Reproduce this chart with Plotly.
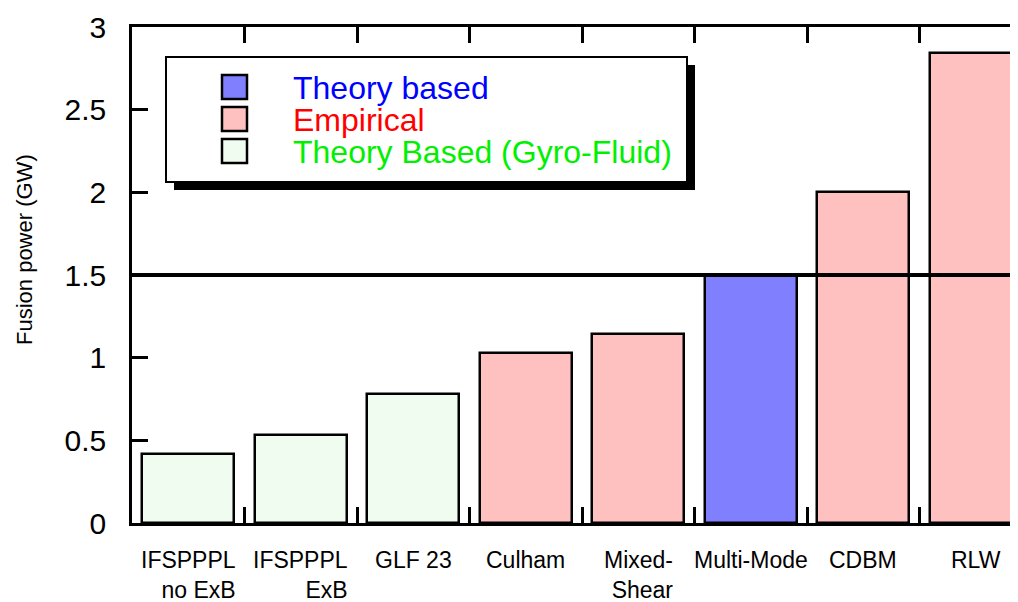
import plotly.graph_objects as go

# data
models = ["IFSPPPL<br>no ExB", "IFSPPPL<br>ExB", "GLF 23", "Culham", "Mixed-<br>Shear",
          "Multi-Mode", "CDBM", "RLW"]
power_gw = [0.42, 0.53, 0.78, 1.03, 1.145, 1.50, 2.00, 2.84]
groups = ["gyro", "gyro", "gyro", "emp", "emp", "theory", "emp", "emp"]
ref_power = 1.5
y_ticks = [0, 0.5, 1, 1.5, 2, 2.5, 3]

fill = {"theory": "#8080ff", "emp": "#ffc0c0", "gyro": "#effcef"}
legend_items = [("theory", "Theory based", "#0000ff"),
                ("emp", "Empirical", "#ff0000"),
                ("gyro", "Theory Based (Gyro-Fluid)", "#00f000")]

# the page body adds an 8px margin, so the figure is 8px smaller than the window
OFF = 8
W, H = 1018 - OFF, 602 - OFF
L, T, B = 132 - OFF, 27 - OFF, 79
pw, ph = W - L, H - T - B


def px(x):
    # window pixel -> paper x
    return (x - OFF - L) / pw


def py(y):
    # window pixel -> paper y
    return (H - B - (y - OFF)) / ph


xs = list(range(1, len(models) + 1))
fig = go.Figure()
fig.add_trace(go.Bar(
    x=xs, y=power_gw, width=0.82,
    marker=dict(color=[fill[g] for g in groups], line=dict(color="black", width=2.5)),
    showlegend=False))

shapes = [dict(type="line", xref="paper", yref="y", x0=0, x1=1, y0=ref_power, y1=ref_power,
               line=dict(color="black", width=4), layer="above")]

# legend box with shadow
shapes.append(dict(type="rect", xref="paper", yref="paper", x0=px(174), x1=px(695),
                   y0=py(190), y1=py(65), fillcolor="black", line=dict(width=0)))
shapes.append(dict(type="rect", xref="paper", yref="paper", x0=px(166), x1=px(687),
                   y0=py(182), y1=py(57), fillcolor="white",
                   line=dict(color="black", width=2)))

annotations = []
for i, (g, name, col) in enumerate(legend_items):
    cy = 87 + 32 * i
    shapes.append(dict(type="rect", xref="paper", yref="paper", x0=px(222), x1=px(247),
                       y0=py(cy + 12), y1=py(cy - 12), fillcolor=fill[g],
                       line=dict(color="black", width=2.5)))
    annotations.append(dict(x=px(291), y=py(cy + 1), xref="paper", yref="paper", text=name,
                            showarrow=False, xanchor="left", yanchor="middle",
                            font=dict(size=32, color=col)))

# category labels under the bars
for x, lab in zip(xs, models):
    annotations.append(dict(x=x, y=-0.044, xref="x", yref="paper", text=lab,
                            showarrow=False, xanchor="center", yanchor="top",
                            align="right", font=dict(size=23, color="black")))

annotations.append(dict(x=px(24), y=py(250), xref="paper", yref="paper", text="Fusion power (GW)",
                        textangle=-90, showarrow=False, xanchor="center", yanchor="middle",
                        font=dict(size=22, color="black")))

fig.update_layout(
    width=W, height=H,
    margin=dict(l=L, r=0, t=T, b=B),
    paper_bgcolor="white", plot_bgcolor="white",
    font=dict(family="Liberation Sans, Arial, sans-serif", color="black"),
    shapes=shapes, annotations=annotations,
    xaxis=dict(range=[0.5, 0.5 + pw / 112.5], tickvals=[x + 0.5 for x in xs[:-1]],
               showticklabels=False, ticks="inside", ticklen=16, tickwidth=2.5,
               tickcolor="black", showline=True, linecolor="black", linewidth=2.5,
               mirror="ticks", showgrid=False, zeroline=False),
    yaxis=dict(range=[0, 3], tickvals=y_ticks, ticktext=[f"{v:g}" for v in y_ticks],
               ticks="inside", ticklen=16, tickwidth=2.5, tickcolor="black",
               showline=True, linecolor="black", linewidth=2.5, mirror=False,
               showgrid=False, zeroline=False, tickfont=dict(size=30), ticklabelstandoff=17),
    bargap=0,
)

fig.write_html("out.html")
